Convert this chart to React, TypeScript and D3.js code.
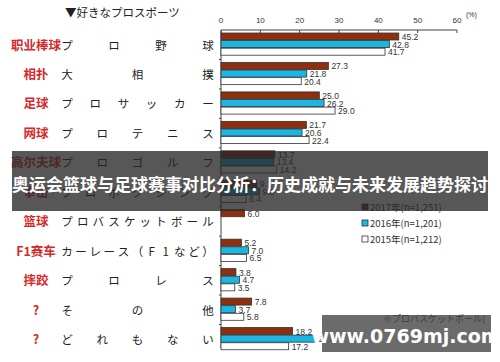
import React from "react";
import * as d3 from "d3";

// categories (red chinese label, japanese label)
const cnLabels = ["职业棒球", "相扑", "足球", "网球", "高尔夫球", "拳击", "篮球", "F1赛车", "摔跤", "?", "?"];
const jpLabels = ["プロ野球", "大相撲", "プロサッカー", "プロテニス", "プロゴルフ", "プロボクシング", "プロバスケットボール", "カーレース（F1など）", "プロレス", "その他", "どれもない"];

const years = ["2017年(n=1,251)", "2016年(n=1,201)", "2015年(n=1,212)"];
const v2017 = [45.2, 27.3, 25.0, 21.7, 13.7, 9.1, 6.0, 5.2, 3.8, 7.8, 18.2];
const v2016 = [42.8, 21.8, 26.2, 20.6, 13.4, 9.8, null, 7.0, 4.7, 3.7, 24.0];
const v2015 = [41.7, 20.4, 29.0, 22.4, 14.2, 6.4, null, 6.5, 3.5, 5.8, 17.2];
const xTicks = [0, 10, 20, 30, 40, 50, 60];

const fills = ["#8e2f10", "#1cb6e2", "#ffffff"];
const JP = "'Noto Sans CJK JP', sans-serif";
const SC = "'Noto Sans CJK SC', sans-serif";

export default function App() {
  const W = 500, H = 362;
  const x = d3.scaleLinear().domain([0, 60]).range([221, 457]);
  const band = d3.scaleBand().domain(d3.range(cnLabels.length).map(String)).range([31, 355]).paddingInner(0).paddingOuter(0);
  const series = [v2017, v2016, v2015];
  const axisY = 30;

  return (
    <svg width={W} height={H} style={{ position: "absolute", left: 0, top: 0, background: "#fff" }}>
      <rect width={W} height={H} fill="#fff" />
      <text x={65} y={17} fontFamily={JP} fontSize={11.5} fill="#222">▼好きなプロスポーツ</text>

      {/* top axis */}
      <g>
        <line x1={x(0)} x2={x(60)} y1={axisY} y2={axisY} stroke="#444" strokeWidth={1} />
        {xTicks.map(t => (
          <g key={t}>
            <line x1={x(t)} x2={x(t)} y1={axisY} y2={axisY + 3} stroke="#444" />
            <text x={x(t)} y={23} textAnchor="middle" fontFamily="Arial, sans-serif" fontSize={8} fill="#333">{t}</text>
          </g>
        ))}
        <text x={466} y={17} fontFamily="Arial, sans-serif" fontSize={7} fill="#333">(%)</text>
        <line x1={x(0)} x2={x(0)} y1={axisY} y2={348} stroke="#444" />
      </g>

      {cnLabels.map((c, i) => {
        const y0 = band(String(i))!;
        const cy = y0 + 14;
        const chars = Array.from(jpLabels[i]);
        const step = chars.length > 1 ? 141 / (chars.length - 1) : 0;
        return (
          <g key={i}>
            {i > 0 && <line x1={x(0) - 2} x2={x(0)} y1={y0 - 1} y2={y0 - 1} stroke="#444" />}
            <text x={36} y={cy + 4.5} textAnchor="middle" fontFamily={SC} fontWeight="bold" fontSize={12.5} fill="#d42a2a">{c}</text>
            {chars.map((ch, k) => (
              <text key={k} x={67 + k * step} y={cy + 4.5} textAnchor="middle" fontFamily={JP} fontSize={11.5} fill="#222">{ch}</text>
            ))}
            {series.map((s, j) => {
              const v = s[i];
              if (v == null) return null;
              const by = y0 + 2 + j * 7.6;
              return (
                <g key={j}>
                  <rect x={x(0)} y={by} width={x(v) - x(0)} height={7} fill={fills[j]} stroke="#333" strokeWidth={0.8} />
                  <text x={x(v) + 3} y={by + 7} fontFamily="Arial, sans-serif" fontSize={8.5} fill="#333">{v.toFixed(1)}</text>
                </g>
              );
            })}
          </g>
        );
      })}

      {/* legend */}
      {years.map((y, j) => (
        <g key={y} transform={`translate(362, ${204 + j * 16})`}>
          <rect x={0} y={0} width={6} height={6} fill={fills[j]} stroke="#333" strokeWidth={0.8} />
          <text x={8} y={6.5} fontFamily={JP} fontSize={9.5} fill="#333">{y}</text>
        </g>
      ))}

      <text x={383} y={322} fontFamily={JP} fontSize={9} fill="#111">※プロバスケットボール(</text>

      {/* overlays */}
      <rect x={12} y={151} width={476} height={60} fill="rgba(40,40,40,0.78)" />
      <text x={250} y={191} textAnchor="middle" fontFamily={SC} fontWeight="bold" fontSize={17} fill="#fff">奥运会篮球与足球赛事对比分析：历史成就与未来发展趋势探讨</text>

      <rect x={322} y={315} width={169} height={37} fill="rgba(70,70,70,0.8)" />
      <text x={406} y={343} textAnchor="middle" fontFamily="'DejaVu Sans', sans-serif" fontWeight="bold" fontSize={19} fill="#fff">www.0769mj.com</text>
    </svg>
  );
}
